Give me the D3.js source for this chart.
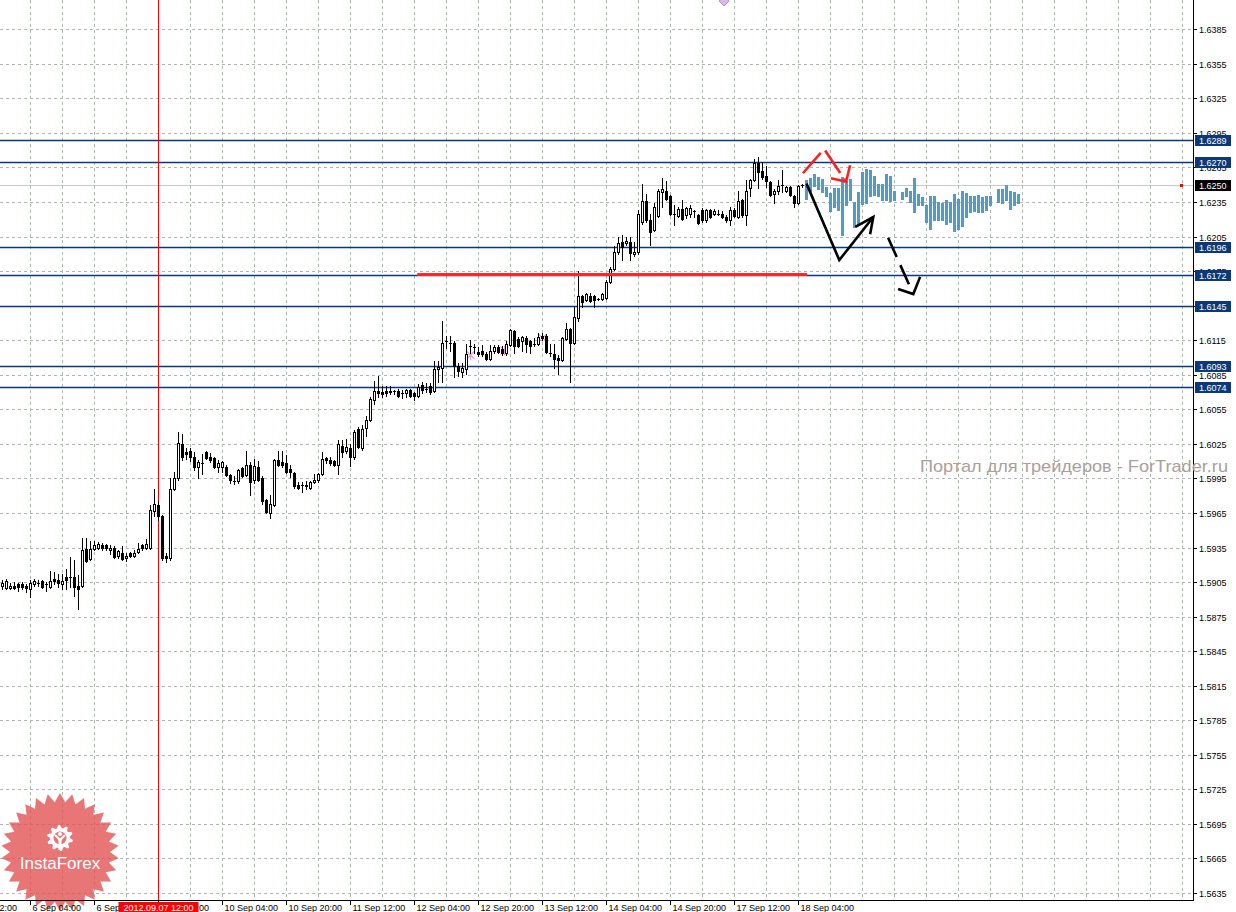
<!DOCTYPE html>
<html><head><meta charset="utf-8">
<script src="https://cdn.jsdelivr.net/npm/d3@7"></script>
<style>
html,body{margin:0;padding:0;background:#fff;overflow:hidden;}
svg{display:block;font-family:"Liberation Sans",Arial,sans-serif;}
</style></head><body>
<svg id="c" width="1236" height="912"></svg>
<script>
// ---------- DATA (hourly bars, bar index 0 = first visible bar) ----------
const open=[1.5902,1.5900,1.5900,1.5902,1.5903,1.5903,1.5902,1.5899,1.5903,1.5904,
1.5906,1.5903,1.5901,1.5908,1.5907,1.5903,1.5909,1.5909,1.5909,1.5902,
1.5902,1.5934,1.5925,1.5934,1.5935,1.5937,1.5937,1.5933,1.5935,1.5928,
1.5930,1.5926,1.5930,1.5928,1.5931,1.5937,1.5935,1.5935,1.5967,1.5972,
1.5962,1.5928,1.5926,1.5986,1.5995,1.6025,1.6018,1.6019,1.6014,1.6005,
1.6008,1.6018,1.6014,1.6013,1.6005,1.6005,1.6005,1.5998,1.5993,1.5993,
1.6004,1.5998,1.6007,1.5994,1.6005,1.5995,1.5976,1.5965,1.5972,1.6011,
1.6009,1.6008,1.6003,1.6000,1.5989,1.5989,1.5989,1.5987,1.5992,1.5994,
1.5999,1.6013,1.6011,1.6010,1.6007,1.6023,1.6019,1.6021,1.6014,1.6038,
1.6021,1.6039,1.6046,1.6063,1.6071,1.6070,1.6071,1.6071,1.6071,1.6071,
1.6069,1.6069,1.6072,1.6069,1.6067,1.6076,1.6073,1.6075,1.6071,1.6090,
1.6091,1.6114,1.6113,1.6113,1.6093,1.6087,1.6090,1.6110,1.6109,1.6105,
1.6106,1.6103,1.6099,1.6106,1.6109,1.6107,1.6104,1.6111,1.6123,1.6116,
1.6114,1.6117,1.6114,1.6112,1.6112,1.6119,1.6119,1.6104,1.6103,1.6100,
1.6098,1.6116,1.6125,1.6113,1.6134,1.6153,1.6150,1.6153,1.6153,1.6151,
1.6151,1.6152,1.6166,1.6177,1.6192,1.6200,1.6199,1.6200,1.6190,1.6192,
1.6218,1.6236,1.6219,1.6211,1.6223,1.6244,1.6245,1.6240,1.6225,1.6223,
1.6229,1.6224,1.6225,1.6227,1.6224,1.6228,1.6219,1.6228,1.6225,1.6225,
1.6225,1.6222,1.6219,1.6228,1.6222,1.6237,1.6224,1.6247,1.6254,1.6269,
1.6262,1.6258,1.6252,1.6242,1.6245,1.6250,1.6245,1.6248,1.6240,1.6234,
1.6250];
const high=[1.5907,1.5908,1.5904,1.5905,1.5904,1.5905,1.5903,1.5907,1.5908,1.5907,
1.5907,1.5905,1.5915,1.5914,1.5912,1.5912,1.5916,1.5927,1.5924,1.5911,
1.5943,1.5943,1.5941,1.5941,1.5940,1.5939,1.5938,1.5937,1.5936,1.5933,
1.5936,1.5930,1.5931,1.5933,1.5939,1.5938,1.5942,1.5972,1.5986,1.5975,
1.5963,1.5930,1.5995,1.6001,1.6035,1.6034,1.6021,1.6021,1.6018,1.6011,
1.6016,1.6019,1.6017,1.6014,1.6011,1.6010,1.6007,1.5999,1.5997,1.6003,
1.6005,1.6019,1.6009,1.6012,1.6010,1.5997,1.5977,1.5981,1.6012,1.6019,
1.6019,1.6015,1.6007,1.6001,1.5992,1.5992,1.5993,1.5993,1.5999,1.6000,
1.6018,1.6014,1.6014,1.6011,1.6028,1.6028,1.6029,1.6025,1.6037,1.6040,
1.6041,1.6049,1.6066,1.6080,1.6084,1.6075,1.6075,1.6075,1.6072,1.6073,
1.6072,1.6073,1.6073,1.6070,1.6077,1.6079,1.6078,1.6078,1.6097,1.6097,
1.6132,1.6119,1.6119,1.6114,1.6095,1.6095,1.6112,1.6115,1.6112,1.6109,
1.6111,1.6105,1.6111,1.6111,1.6111,1.6110,1.6114,1.6125,1.6124,1.6118,
1.6119,1.6119,1.6115,1.6117,1.6121,1.6121,1.6120,1.6112,1.6112,1.6102,
1.6118,1.6130,1.6126,1.6144,1.6175,1.6154,1.6156,1.6156,1.6154,1.6152,
1.6156,1.6167,1.6179,1.6197,1.6205,1.6206,1.6205,1.6205,1.6200,1.6228,
1.6251,1.6242,1.6225,1.6234,1.6246,1.6256,1.6253,1.6241,1.6232,1.6231,
1.6237,1.6231,1.6232,1.6228,1.6225,1.6230,1.6229,1.6229,1.6229,1.6228,
1.6227,1.6224,1.6231,1.6230,1.6245,1.6238,1.6254,1.6255,1.6272,1.6274,
1.6270,1.6266,1.6253,1.6246,1.6254,1.6263,1.6249,1.6249,1.6241,1.6250,
1.6251];
const low=[1.5899,1.5899,1.5899,1.5899,1.5897,1.5899,1.5896,1.5892,1.5902,1.5902,
1.5900,1.5897,1.5900,1.5903,1.5901,1.5899,1.5899,1.5901,1.5893,1.5882,
1.5901,1.5922,1.5924,1.5933,1.5934,1.5933,1.5933,1.5929,1.5926,1.5926,
1.5924,1.5923,1.5927,1.5927,1.5930,1.5933,1.5934,1.5934,1.5962,1.5959,
1.5924,1.5922,1.5924,1.5985,1.5994,1.6011,1.6012,1.6010,1.6002,1.5995,
1.5999,1.6012,1.6009,1.6004,1.6001,1.6001,1.5997,1.5991,1.5990,1.5991,
1.5996,1.5997,1.5981,1.5991,1.5993,1.5973,1.5965,1.5961,1.5971,1.6006,
1.6005,1.6000,1.5996,1.5987,1.5986,1.5983,1.5986,1.5986,1.5991,1.5992,
1.5998,1.6008,1.6007,1.6006,1.5999,1.6014,1.6017,1.6006,1.6012,1.6021,
1.6020,1.6032,1.6045,1.6060,1.6066,1.6066,1.6067,1.6068,1.6068,1.6066,
1.6065,1.6066,1.6066,1.6063,1.6066,1.6069,1.6070,1.6068,1.6070,1.6079,
1.6079,1.6108,1.6106,1.6083,1.6084,1.6083,1.6086,1.6104,1.6104,1.6101,
1.6101,1.6098,1.6098,1.6104,1.6104,1.6102,1.6102,1.6110,1.6104,1.6109,
1.6106,1.6105,1.6104,1.6110,1.6111,1.6115,1.6104,1.6101,1.6091,1.6086,
1.6097,1.6115,1.6079,1.6112,1.6132,1.6144,1.6149,1.6148,1.6144,1.6150,
1.6150,1.6151,1.6165,1.6176,1.6190,1.6185,1.6198,1.6185,1.6188,1.6190,
1.6216,1.6218,1.6198,1.6210,1.6222,1.6231,1.6237,1.6224,1.6215,1.6222,
1.6219,1.6221,1.6222,1.6222,1.6216,1.6218,1.6218,1.6221,1.6224,1.6224,
1.6221,1.6218,1.6215,1.6222,1.6221,1.6222,1.6215,1.6240,1.6253,1.6247,
1.6255,1.6248,1.6240,1.6234,1.6242,1.6244,1.6244,1.6240,1.6231,1.6233,
1.6248];
const close=[1.5904,1.5906,1.5902,1.5900,1.5901,1.5901,1.5900,1.5904,1.5906,1.5904,
1.5901,1.5903,1.5906,1.5906,1.5904,1.5906,1.5907,1.5909,1.5901,1.5899,
1.5933,1.5923,1.5934,1.5937,1.5938,1.5935,1.5935,1.5935,1.5927,1.5932,
1.5925,1.5928,1.5928,1.5930,1.5934,1.5935,1.5938,1.5968,1.5973,1.5962,
1.5926,1.5926,1.5986,1.5995,1.6026,1.6014,1.6016,1.6014,1.6005,1.6009,
1.6008,1.6013,1.6011,1.6005,1.6008,1.6009,1.5998,1.5994,1.5993,1.6002,
1.5997,1.6007,1.5992,1.6006,1.5994,1.5975,1.5966,1.5973,1.6011,1.6007,
1.6007,1.6001,1.6001,1.5988,1.5987,1.5989,1.5988,1.5992,1.5994,1.5999,
1.6012,1.6011,1.6008,1.6007,1.6025,1.6018,1.6022,1.6014,1.6035,1.6022,
1.6038,1.6046,1.6064,1.6071,1.6069,1.6068,1.6069,1.6070,1.6071,1.6067,
1.6069,1.6072,1.6067,1.6067,1.6074,1.6072,1.6073,1.6070,1.6090,1.6092,
1.6113,1.6114,1.6113,1.6093,1.6088,1.6091,1.6103,1.6110,1.6109,1.6103,
1.6103,1.6099,1.6106,1.6109,1.6105,1.6104,1.6112,1.6124,1.6110,1.6110,
1.6118,1.6112,1.6110,1.6112,1.6118,1.6117,1.6105,1.6104,1.6099,1.6098,
1.6117,1.6125,1.6113,1.6135,1.6153,1.6148,1.6155,1.6149,1.6150,1.6151,
1.6155,1.6166,1.6177,1.6192,1.6199,1.6196,1.6201,1.6191,1.6192,1.6225,
1.6236,1.6219,1.6209,1.6231,1.6245,1.6246,1.6238,1.6225,1.6225,1.6229,
1.6220,1.6230,1.6230,1.6227,1.6217,1.6219,1.6228,1.6222,1.6227,1.6225,
1.6222,1.6219,1.6228,1.6223,1.6236,1.6224,1.6245,1.6254,1.6269,1.6261,
1.6257,1.6253,1.6241,1.6245,1.6249,1.6250,1.6248,1.6241,1.6234,1.6249,
1.6250];

// projected (forecast) bars, starting at bar index 201
const fcStart=201;
const fcHigh=[1.6254,1.6256,1.6259,1.6257,1.6255,1.6248,1.6243,1.6247,1.6247,1.6257,
1.6253,1.6255,1.6235,1.6244,1.6261,1.6264,1.6263,1.6258,1.6251,1.6251,
1.6259,1.6258,1.6245,null,1.6244,1.6247,1.6245,1.6256,1.6242,1.6239,
1.6232,1.6240,1.6240,1.6235,1.6234,1.6237,1.6235,1.6242,1.6238,1.6245,
1.6243,1.6240,1.6240,1.6241,1.6239,1.6240,1.6240,null,1.6246,1.6246,
1.6250,1.6245,1.6244,1.6242];
const fcLow=[1.6238,1.6245,1.6249,1.6246,1.6244,1.6240,1.6227,1.6231,1.6228,1.6206,
1.6232,1.6237,1.6213,1.6215,1.6233,1.6234,1.6240,1.6241,1.6240,1.6237,
1.6237,1.6236,1.6237,null,1.6238,1.6240,1.6235,1.6226,1.6232,1.6232,
1.6218,1.6212,1.6219,1.6219,1.6219,1.6216,1.6218,1.6210,1.6212,1.6214,
1.6222,1.6226,1.6227,1.6226,1.6226,1.6228,1.6232,null,1.6235,1.6234,
1.6237,1.6229,1.6232,1.6234];

const yTicks=[1.5635,1.5665,1.5695,1.5725,1.5755,1.5785,1.5815,1.5845,1.5875,1.5905,1.5935,1.5965,1.5995,1.6025,1.6055,1.6085,1.6115,1.6145,1.6175,1.6205,1.6235,1.6265,1.6295,1.6325,1.6355,1.6385];
const levels=[1.6289,1.6270,1.6196,1.6172,1.6145,1.6093,1.6074];
const currentPrice=1.6250;
const xTickBars=[-9,7,23,39,55,71,87,103,119,135,151,167,183,199];
const xTickLabels=["5 Sep 12:00","6 Sep 04:00","6 Sep 20:00","7 Sep 12:00","10 Sep 04:00","10 Sep 20:00","11 Sep 12:00","12 Sep 04:00","12 Sep 20:00","13 Sep 12:00","14 Sep 04:00","14 Sep 20:00","17 Sep 12:00","18 Sep 04:00"];
const markerBar=39, markerLabel="2012.09.07 12:00";
const supportLine={from:103.7,to:201.1,price:1.6172};
// hand-drawn annotations in (bar index, price)
const redPath=[[200.1,1.6260],[205.4,1.6281],[210.9,1.62526]];
const redHead=[[207.1,1.62556],[210.9,1.62526],[211.9,1.6267]];
const blackPath=[[201,1.6251],[209.2,1.61846],[217.7,1.6222]];
const blackHead=[[213.2,1.62135],[217.7,1.6222],[216.9,1.6207]];
const dashPath=[[221.4,1.6204],[227.7,1.61551]];
const dashHead=[[223.9,1.61594],[227.7,1.61551],[229.4,1.6170]];
const fractals=[[117,1.6102],[125.5,1.6106],[135,1.6117]];
const watermark="Портал для трейдеров - ForTrader.ru";

// ---------- DRAW ----------
const plotR=1193, plotB=900;
const svg=d3.select("#c");
const x=d3.scaleLinear().domain([0,200]).range([2.5,802.5]);
const y=d3.scaleLinear().domain([1.5635,1.6385]).range([893,29.3]);
const yi=v=>Math.round(y(v));

svg.append("rect").attr("width",1236).attr("height",912).attr("fill","#fff");
svg.append("defs").append("clipPath").attr("id","plot").append("rect").attr("x",0).attr("y",0).attr("width",plotR).attr("height",plotB);
const plot=svg.append("g").attr("clip-path","url(#plot)");

// grid
plot.selectAll(".hg").data(yTicks).join("line")
  .attr("x1",0).attr("x2",plotR).attr("y1",d=>yi(d)+0.5).attr("y2",d=>yi(d)+0.5)
  .attr("stroke","#b4b4b4").attr("stroke-dasharray","3,3").attr("stroke-width",1);
plot.selectAll(".vg").data(d3.range(7,300,8)).join("line")
  .attr("x1",d=>x(d)).attr("x2",d=>x(d)).attr("y1",0).attr("y2",plotB)
  .attr("stroke","#abb9ab").attr("stroke-dasharray","3,3").attr("stroke-width",1);

// current price line
plot.append("line").attr("x1",0).attr("x2",plotR).attr("y1",yi(currentPrice)+0.5).attr("y2",yi(currentPrice)+0.5)
  .attr("stroke","#c8c8c8").attr("stroke-width",1);
plot.append("rect").attr("x",1180).attr("y",yi(currentPrice)-1).attr("width",3).attr("height",3).attr("fill","#ff0000");

// level lines
plot.selectAll(".lv").data(levels).join("line")
  .attr("x1",0).attr("x2",plotR).attr("y1",d=>yi(d)+0.5).attr("y2",d=>yi(d)+0.5)
  .attr("stroke","#0b3878").attr("stroke-width",1.4);

// vertical red marker
plot.append("line").attr("x1",x(markerBar)).attr("x2",x(markerBar)).attr("y1",0).attr("y2",plotB)
  .attr("stroke","#ff0000").attr("stroke-width",1);

// fractal marks (pink)
fractals.forEach(([b,p])=>{
  const cx=x(b), cy=y(p);
  const g=plot.append("g").attr("stroke","#e7a3cf").attr("stroke-width",1.2);
  g.append("line").attr("x1",cx-4).attr("y1",cy-4).attr("x2",cx+4).attr("y2",cy+4);
  g.append("line").attr("x1",cx-4).attr("y1",cy+4).attr("x2",cx+4).attr("y2",cy-4);
  g.append("line").attr("x1",cx).attr("y1",cy-5).attr("x2",cx).attr("y2",cy+5);
});

// candles
const bars=d3.range(open.length).map(i=>({i,o:open[i],h:high[i],l:low[i],c:close[i]}));
const cg=plot.append("g");
bars.forEach(d=>{
  const cx=x(d.i);
  cg.append("line").attr("x1",cx).attr("x2",cx).attr("y1",yi(d.h)).attr("y2",yi(d.l)+1)
    .attr("stroke","#000").attr("stroke-width",1);
  const top=yi(Math.max(d.o,d.c)), bot=yi(Math.min(d.o,d.c));
  if(d.c>d.o){
    cg.append("rect").attr("x",cx-1).attr("y",top+0.5).attr("width",2).attr("height",Math.max(bot-top,1))
      .attr("fill","#fff").attr("stroke","#000").attr("stroke-width",1);
  } else if(d.c<d.o){
    cg.append("rect").attr("x",cx-1.5).attr("y",top).attr("width",3).attr("height",Math.max(bot-top+1,2))
      .attr("fill","#000");
  } else {
    cg.append("line").attr("x1",cx-1.5).attr("x2",cx+1.5).attr("y1",top+0.5).attr("y2",top+0.5)
      .attr("stroke","#000").attr("stroke-width",1);
  }
});

// forecast bars
const fc=fcHigh.map((h,k)=>({i:fcStart+k,h,l:fcLow[k]})).filter(d=>d.h!=null);
plot.selectAll(".fc").data(fc).join("rect")
  .attr("x",d=>x(d.i)-1.5).attr("width",3)
  .attr("y",d=>yi(d.h)).attr("height",d=>yi(d.l)-yi(d.h)+1)
  .attr("fill","#4f9cc6");

// support line
plot.append("line").attr("x1",x(supportLine.from)).attr("x2",x(supportLine.to))
  .attr("y1",y(supportLine.price)).attr("y2",y(supportLine.price))
  .attr("stroke","#ff2626").attr("stroke-width",3);

// annotations
const ln=d3.line().x(d=>x(d[0])).y(d=>y(d[1]));
plot.append("path").attr("d",ln(redPath)).attr("fill","none").attr("stroke","#ff1f1f")
  .attr("stroke-width",2.6).attr("stroke-dasharray","27,7");
plot.append("path").attr("d",ln(redHead)).attr("fill","none").attr("stroke","#ff1f1f").attr("stroke-width",2.6);
plot.append("path").attr("d",ln(blackPath)).attr("fill","none").attr("stroke","#000").attr("stroke-width",2.6);
plot.append("path").attr("d",ln(blackHead)).attr("fill","none").attr("stroke","#000").attr("stroke-width",2.6);
plot.append("path").attr("d",ln(dashPath)).attr("fill","none").attr("stroke","#000")
  .attr("stroke-width",2.6).attr("stroke-dasharray","21,9");
plot.append("path").attr("d",ln(dashHead)).attr("fill","none").attr("stroke","#000").attr("stroke-width",2.6);

// small purple diamond at top
plot.append("path").attr("d",`M${x(180.4)},-4 L${x(180.4)+5},1 L${x(180.4)},6 L${x(180.4)-5},1 Z`)
  .attr("fill","#d7b9e6").attr("stroke","#b48fcb").attr("stroke-width",1);

// InstaForex logo
const lg=svg.append("g");
const lcx=60, lcy=852, nP=30, R=59, r=50;
const star=d3.range(nP*2).map(k=>{const a=Math.PI*k/nP-Math.PI/2; const rr=k%2?r:R; return [lcx+rr*Math.cos(a), lcy+rr*Math.sin(a)];});
lg.append("path").attr("d","M"+star.map(p=>p.join(",")).join("L")+"Z").attr("fill","#e34f4f").attr("opacity",0.78);
// gear
const gcx=60, gcy=838;
const gear=d3.range(40).map(k=>{const a=Math.PI*2*k/40-Math.PI/2; const rr=(Math.floor((k+1)/2)%2)?10:13; return [gcx+rr*Math.cos(a), gcy+rr*Math.sin(a)];});
lg.append("path").attr("d","M"+gear.map(p=>p.join(",")).join("L")+"Z").attr("fill","#fff");
lg.append("circle").attr("cx",gcx).attr("cy",gcy).attr("r",6.5).attr("fill","#e97474");
lg.append("path").attr("d",`M${gcx-5},${gcy-3} L${gcx},${gcy+2} L${gcx+5},${gcy-3}`).attr("fill","none").attr("stroke","#fff").attr("stroke-width",2.2);
lg.append("rect").attr("x",gcx-1.5).attr("y",gcy+1).attr("width",3).attr("height",11).attr("fill","#fff");
lg.append("circle").attr("cx",gcx).attr("cy",gcy-4).attr("r",2).attr("fill","#fff");
lg.append("text").attr("x",60).attr("y",869).attr("text-anchor","middle").attr("fill","#fff")
  .attr("font-size",17).text("InstaForex");

// axes
svg.append("line").attr("x1",plotR+0.5).attr("x2",plotR+0.5).attr("y1",0).attr("y2",plotB+1).attr("stroke","#000");
svg.append("line").attr("x1",0).attr("x2",plotR+1).attr("y1",plotB+0.5).attr("y2",plotB+0.5).attr("stroke","#000");

// y ticks & labels
const ya=svg.append("g").attr("font-size",9).attr("fill","#000");
yTicks.forEach(t=>{
  ya.append("line").attr("x1",plotR).attr("x2",plotR+4).attr("y1",yi(t)+0.5).attr("y2",yi(t)+0.5).attr("stroke","#000");
  ya.append("text").attr("x",1199).attr("y",yi(t)+4).text(t.toFixed(4));
});
levels.forEach(t=>{
  ya.append("rect").attr("x",1195).attr("y",yi(t)-5).attr("width",36).attr("height",11).attr("fill","#0b3878");
  ya.append("text").attr("x",1199).attr("y",yi(t)+4).attr("fill","#fff").text(t.toFixed(4));
});
ya.append("rect").attr("x",1195).attr("y",yi(currentPrice)-5).attr("width",36).attr("height",11).attr("fill","#000");
ya.append("text").attr("x",1199).attr("y",yi(currentPrice)+4).attr("fill","#fff").text(currentPrice.toFixed(4));

// x ticks & labels
const xa=svg.append("g").attr("font-size",9).attr("fill","#000");
xTickBars.forEach((b,k)=>{
  xa.append("line").attr("x1",x(b)).attr("x2",x(b)).attr("y1",plotB).attr("y2",plotB+5).attr("stroke","#000");
  xa.append("text").attr("x",x(b)+2).attr("y",911).text(xTickLabels[k]);
});
xa.append("rect").attr("x",x(markerBar)-40).attr("y",902).attr("width",80).attr("height",10).attr("fill","#ff0000");
xa.append("text").attr("x",x(markerBar)).attr("y",911).attr("text-anchor","middle").attr("fill","#fff").text(markerLabel);

// watermark
svg.append("text").attr("x",920).attr("y",472).attr("font-size",17)
  .attr("textLength",308).attr("lengthAdjust","spacingAndGlyphs")
  .attr("fill","#aa9e9e").text(watermark);
</script>
</body></html>
